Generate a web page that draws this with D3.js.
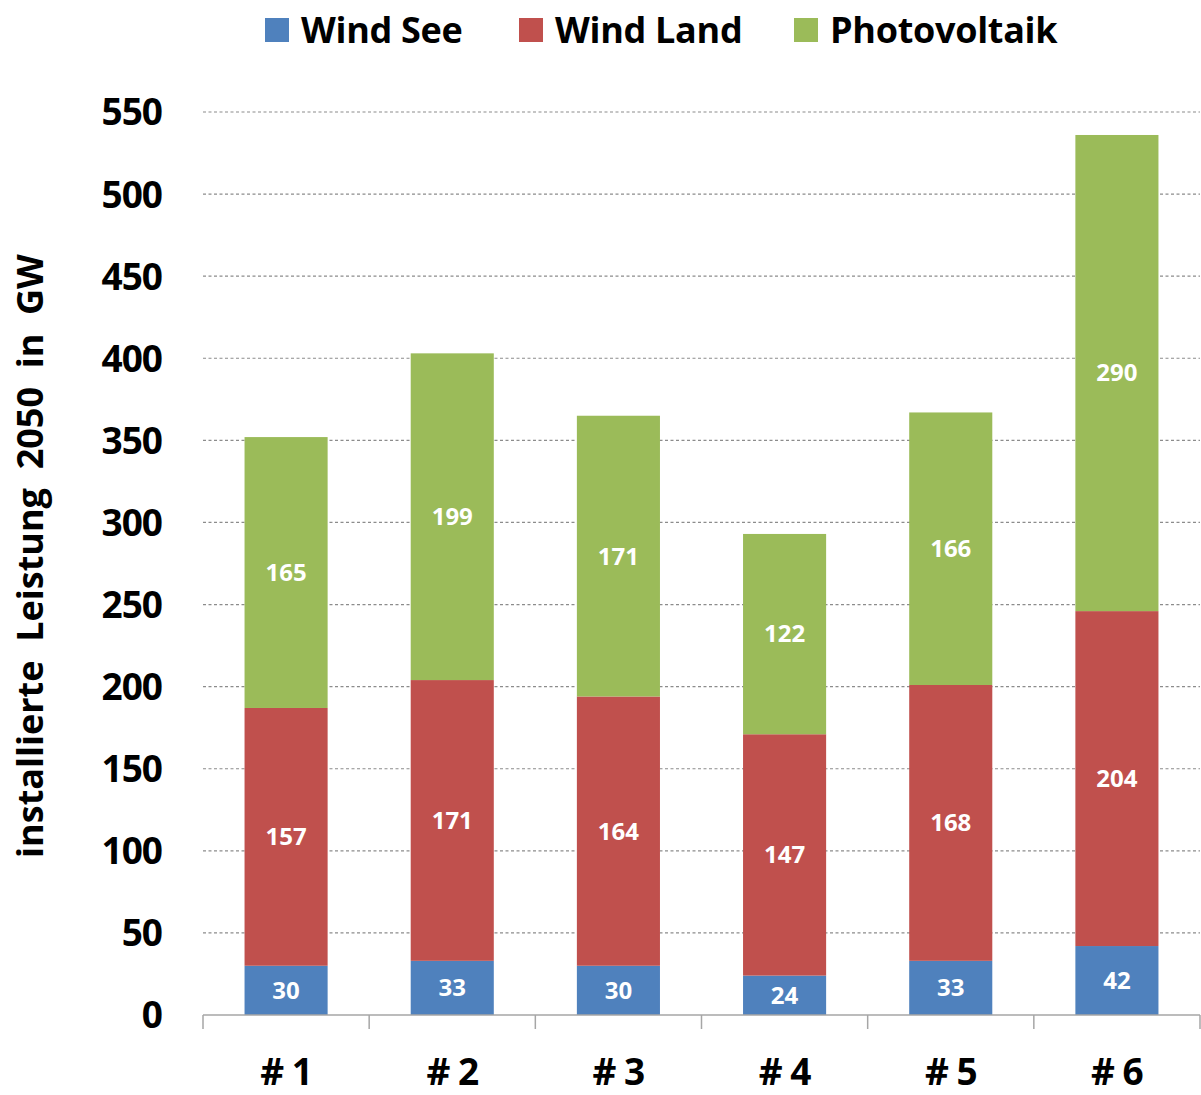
<!DOCTYPE html>
<html>
<head>
<meta charset="utf-8">
<script src="https://cdn.jsdelivr.net/npm/d3@7"></script>
<style>
  html, body { margin: 0; padding: 0; background: #fff; }
  svg { display: block; font-family: "Open Sans", "DejaVu Sans", sans-serif; }
  svg text { font-family: "Open Sans", "DejaVu Sans", sans-serif; }
</style>
</head>
<body>
<svg id="chart" width="1201" height="1095"></svg>
<script>
// Installed capacity 2050 per scenario, GW
const scenarios = ["# 1", "# 2", "# 3", "# 4", "# 5", "# 6"];
const windSee = [30, 33, 30, 24, 33, 42];
const windLand = [157, 171, 164, 147, 168, 204];
const photovoltaik = [165, 199, 171, 122, 166, 290];
const seriesNames = ["Wind See", "Wind Land", "Photovoltaik"];
const seriesColors = ["#4F81BD", "#C0504D", "#9BBB59"];
const yTicks = [0, 50, 100, 150, 200, 250, 300, 350, 400, 450, 500, 550];

const svg = d3.select("#chart");
const plot = { left: 203, right: 1200, top: 112, bottom: 1015 };

const rows = scenarios.map((s, i) => ({
  scenario: s,
  "Wind See": windSee[i],
  "Wind Land": windLand[i],
  "Photovoltaik": photovoltaik[i]
}));
const stacked = d3.stack().keys(seriesNames)(rows);

const x = d3.scaleBand().domain(scenarios).range([plot.left, plot.right]).paddingInner(0.5).paddingOuter(0.25);
const xBand = d3.scaleBand().domain(scenarios).range([plot.left, plot.right]);
const y = d3.scaleLinear().domain([0, 550]).range([plot.bottom, plot.top]);

// dashed gridlines
svg.append("g").selectAll("line").data(yTicks.filter(t => t > 0)).join("line")
  .attr("x1", plot.left).attr("x2", plot.right)
  .attr("y1", d => y(d)).attr("y2", d => y(d))
  .attr("stroke", "#8c8c8c").attr("stroke-width", 1.2).attr("stroke-dasharray", "3,2.5");

// y axis labels
const yAxis = d3.axisLeft(y).tickValues(yTicks).tickSize(0).tickPadding(0);
const gy = svg.append("g").attr("transform", `translate(162,0)`).call(yAxis)
  .attr("font-family", null).attr("font-size", null);
gy.select(".domain").remove();
gy.selectAll("text").attr("font-size", 37).attr("font-weight", 700).attr("fill", "#000")
  .attr("dy", "0.35em").style("letter-spacing", "-1px");

// bars
const colorOf = d3.scaleOrdinal().domain(seriesNames).range(seriesColors);
const layers = svg.append("g").selectAll("g").data(stacked).join("g")
  .attr("fill", d => colorOf(d.key));
layers.selectAll("rect").data(d => d).join("rect")
  .attr("x", d => x(d.data.scenario))
  .attr("width", x.bandwidth())
  .attr("y", d => y(d[1]))
  .attr("height", d => y(d[0]) - y(d[1]));

// value labels
layers.selectAll("text").data(d => d.map(v => ({ v, key: d.key }))).join("text")
  .attr("x", d => x(d.v.data.scenario) + x.bandwidth() / 2)
  .attr("y", d => y((d.v[0] + d.v[1]) / 2))
  .attr("dy", "0.35em")
  .attr("text-anchor", "middle")
  .attr("fill", "#fff").attr("font-size", 24).attr("font-weight", 700)
  .text(d => d.v.data[d.key]);

// x axis with category boundary ticks
const gx = svg.append("g").attr("transform", `translate(0,${plot.bottom})`);
gx.append("line").attr("x1", plot.left).attr("x2", plot.right).attr("stroke", "#a6a6a6").attr("stroke-width", 1.5);
const bounds = scenarios.map(s => xBand(s)).concat([xBand(scenarios[scenarios.length - 1]) + xBand.bandwidth()]);
gx.selectAll("line.tick").data(bounds).join("line").attr("class", "tick")
  .attr("x1", d => d).attr("x2", d => d).attr("y1", 0).attr("y2", 14)
  .attr("stroke", "#a6a6a6").attr("stroke-width", 1.5);
gx.selectAll("text").data(scenarios).join("text")
  .attr("x", d => xBand(d) + xBand.bandwidth() / 2)
  .attr("y", 70)
  .attr("text-anchor", "middle")
  .attr("font-size", 37).attr("font-weight", 700).attr("fill", "#000")
  .style("letter-spacing", "-1px")
  .text(d => d);

// y axis title
svg.append("text")
  .attr("transform", `translate(30,556) rotate(-90)`)
  .attr("text-anchor", "middle").attr("dy", "0.35em")
  .attr("font-size", 36).attr("font-weight", 700).attr("fill", "#000")
  .style("white-space", "pre").style("letter-spacing", "0px")
  .text("installierte  Leistung  2050  in  GW");

// legend
const legendX = [265, 519, 794];
const legend = svg.append("g").selectAll("g").data(seriesNames).join("g")
  .attr("transform", (d, i) => `translate(${legendX[i]},18)`);
legend.append("rect").attr("width", 24).attr("height", 24).attr("fill", d => colorOf(d));
legend.append("text").attr("x", 36).attr("y", 12).attr("dy", "0.35em")
  .attr("font-size", 36).attr("font-weight", 700).attr("fill", "#000")
  .style("letter-spacing", "-0.3px")
  .text(d => d);
</script>
</body>
</html>
